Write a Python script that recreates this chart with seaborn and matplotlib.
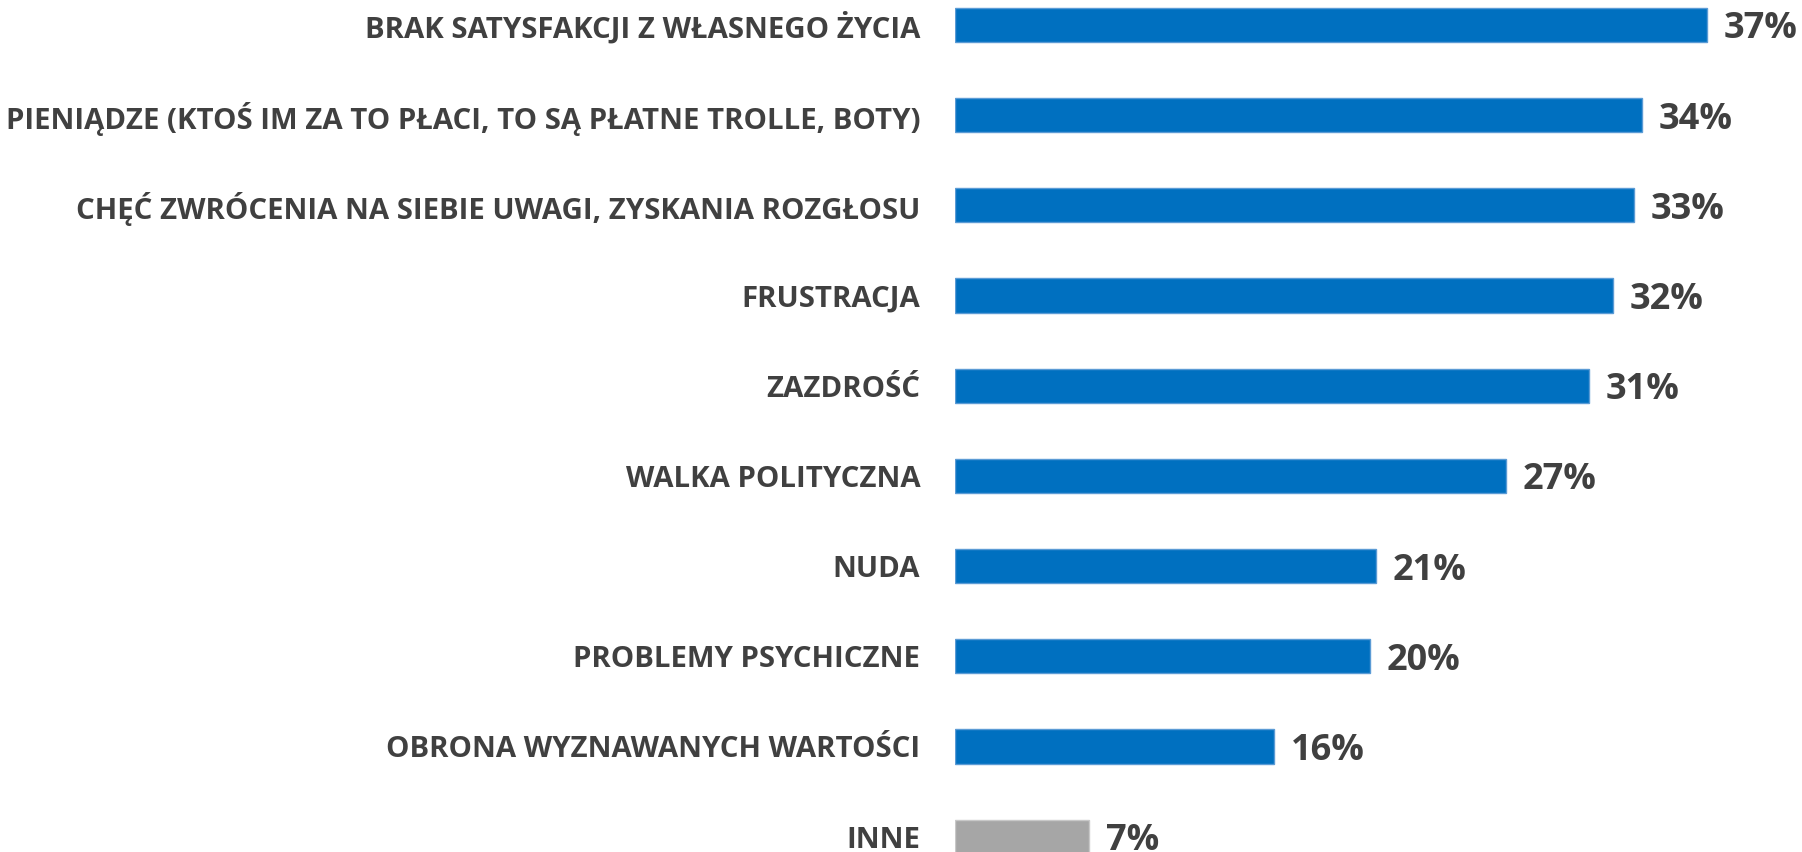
import matplotlib.pyplot as plt
import seaborn as sns
import pandas as pd

# data
categories = [
    "BRAK SATYSFAKCJI Z WŁASNEGO ŻYCIA",
    "PIENIĄDZE (KTOŚ IM ZA TO PŁACI, TO SĄ PŁATNE TROLLE, BOTY)",
    "CHĘĆ ZWRÓCENIA NA SIEBIE UWAGI, ZYSKANIA ROZGŁOSU",
    "FRUSTRACJA",
    "ZAZDROŚĆ",
    "WALKA POLITYCZNA",
    "NUDA",
    "PROBLEMY PSYCHICZNE",
    "OBRONA WYZNAWANYCH WARTOŚCI",
    "INNE",
]
values = [37.0, 33.8, 33.4, 32.4, 31.2, 27.1, 20.7, 20.4, 15.7, 6.6]

df = pd.DataFrame({"cat": categories, "val": values})
palette = {c: ("#A6A6A6" if c == "INNE" else "#0070C0") for c in categories}

sns.set_theme(style="white")
plt.rcParams["font.family"] = ["Open Sans", "DejaVu Sans"]
text_col = "#404040"

fig = plt.figure(figsize=(18.02, 8.52), dpi=100)
ax = fig.add_axes([0.530, 0.0, 0.451, 1.0])

sns.barplot(data=df, y="cat", x="val", hue="cat", palette=palette,
            orient="h", width=0.38, legend=False, ax=ax, saturation=1)

# thin lighter outline like the original
for p, c in zip(ax.patches, categories):
    p.set_edgecolor("#C8C8C8" if c == "INNE" else "#5B9BD5")
    p.set_linewidth(1.0)

ax.set_xlim(0, 40)
ax.set_ylim(9.17, -0.277)
ax.set_xlabel("")
ax.set_ylabel("")
ax.set_xticks([])
sns.despine(ax=ax, left=True, bottom=True)
ax.tick_params(axis="y", length=0, pad=25)
for t in ax.get_yticklabels():
    t.set_fontsize(21.2)
    t.set_fontweight("bold")
    t.set_color(text_col)
    t.set_verticalalignment("center_baseline")

for cont in ax.containers:
    labels = ax.bar_label(cont, fmt="{:.0f}%", padding=12, fontsize=26,
                          fontweight="bold", color=text_col, clip_on=False)
    for lb in labels:
        lb.set_verticalalignment("center_baseline")

fig.savefig("out.png", dpi=100)
